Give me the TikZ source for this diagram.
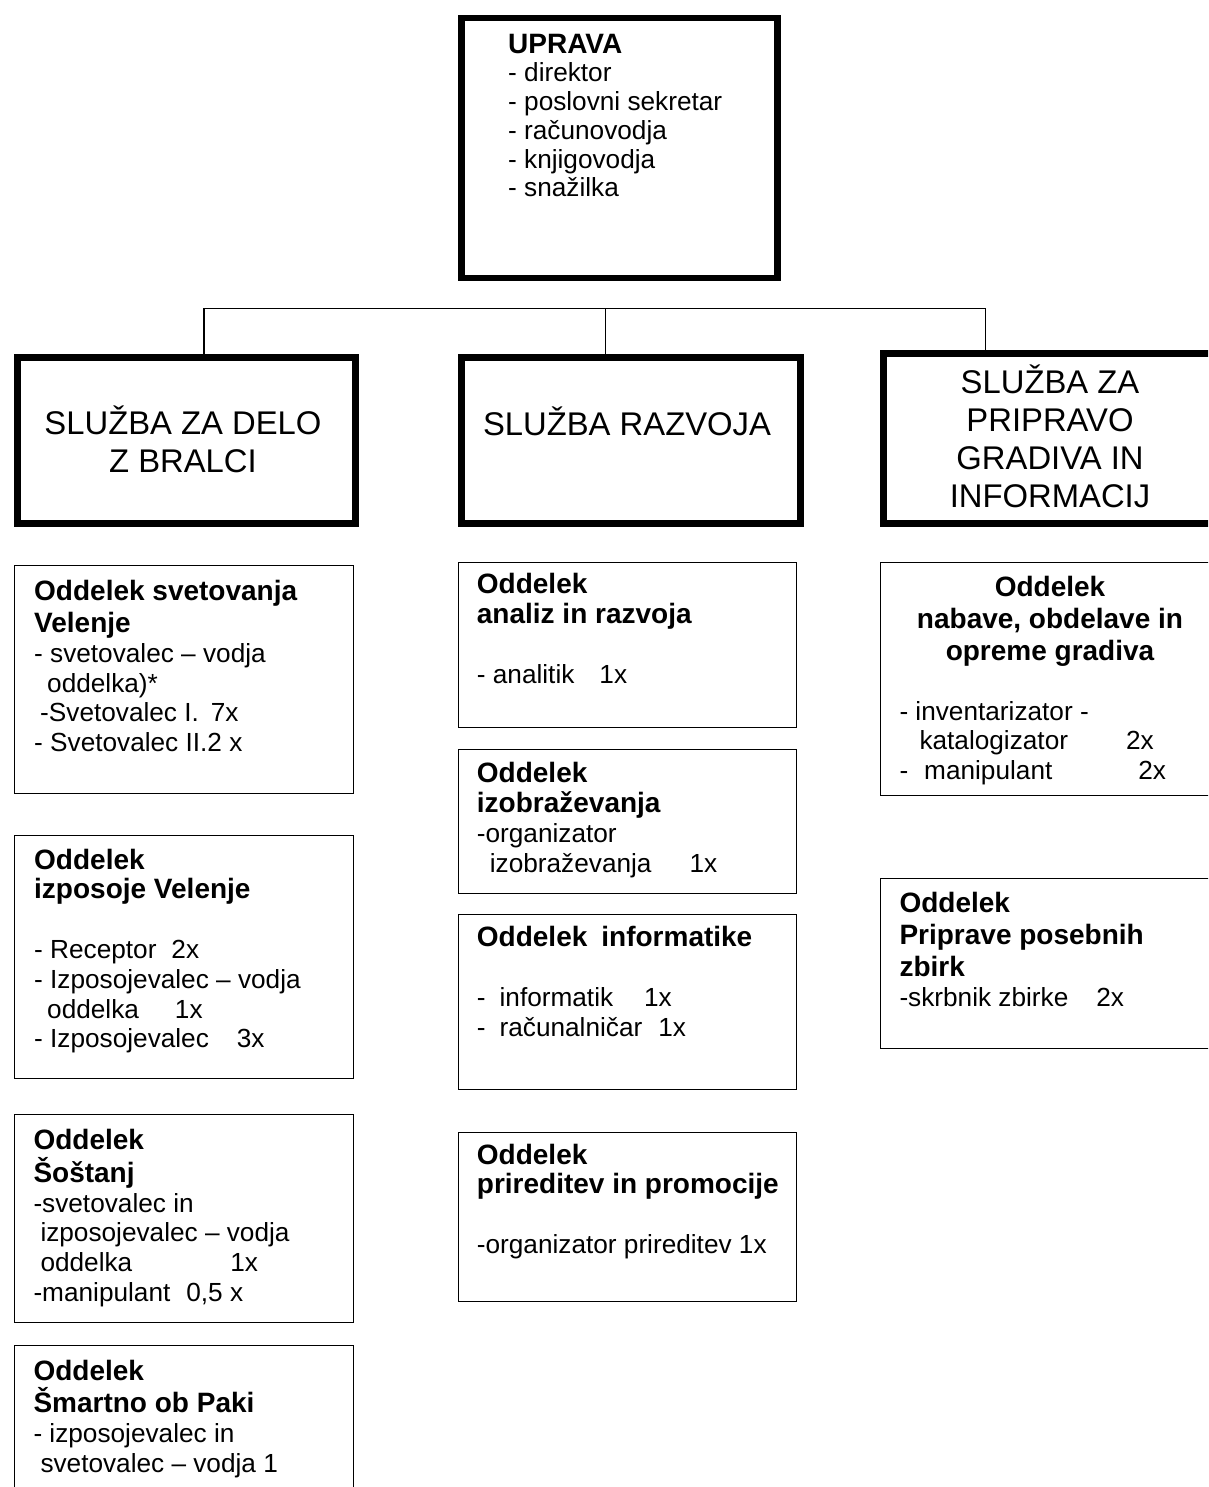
\documentclass[tikz,border=0pt]{standalone}
\usepackage{fontspec}
\setmainfont{Liberation Sans}
\usetikzlibrary{positioning}

\newcommand{\boxtext}[1]{\begin{tabular}[t]{@{}l@{}}#1\end{tabular}}
\newcommand{\boxtextc}[1]{\begin{tabular}[t]{@{}c@{}}#1\end{tabular}}
\newcommand{\headfont}{\fontsize{28}{31}\bfseries\selectfont}

\begin{document}
\begin{tikzpicture}[x=1pt,y=-1pt,
    uprava/.style={draw,line width=6.5pt,anchor=north west,inner sep=0,minimum width=316pt,minimum height=260pt},
    sluzba/.style={draw,line width=6.5pt,anchor=north west,inner sep=0,minimum height=166pt},
    oddelek/.style={draw,line width=1.3pt,anchor=north west,inner sep=0,minimum width=339pt},
    txt/.style={anchor=base west,inner sep=0,font=\fontsize{26.2}{29.8}\selectfont},
    bigtxt/.style={anchor=base,inner sep=0,font=\fontsize{32.8}{38}\selectfont},
    link/.style={line width=1.2pt}]
  \useasboundingbox (0,0) rectangle (1208,1487);
  \clip (0,0) rectangle (1208,1487);

  % uprava
  \node[uprava] (upr) at (458,15) {};
  \node[txt,font=\fontsize{26.2}{28.7}\selectfont] (uprt) at (508,53.3)
    {\boxtext{\headfont UPRAVA\\- direktor\\- poslovni sekretar\\- računovodja\\- knjigovodja\\- snažilka}};

  % sluzbe
  \node[sluzba,minimum width=338pt] (sbr) at (14,354) {};
  \node[bigtxt] (sbrt) at (183,434) {\boxtextc{SLUŽBA ZA DELO\\Z BRALCI}};
  \node[sluzba,minimum width=339pt] (sraz) at (458,354) {};
  \node[bigtxt] (srazt) at (627,435) {SLUŽBA RAZVOJA};
  \node[sluzba,minimum width=340pt,minimum height=170pt] (sgr) at (880,350) {};
  \node[bigtxt] (sgrt) at (1050,393) {\boxtextc{SLUŽBA ZA\\PRIPRAVO\\GRADIVA IN\\INFORMACIJ}};

  % povezave
  \coordinate (jl) at (204,308.3);
  \coordinate (jm) at (605.8,308.3);
  \coordinate (jr) at (985.8,308.3);
  \draw[link] (jl) -- (jr);
  \draw[link] (jl) -- (jl |- sbr.north);
  \draw[link] (jm) -- (jm |- sraz.north);
  \draw[link] (jr) -- (jr |- sgr.north);

  % oddelki - delo z bralci
  \node[oddelek,minimum height=228pt] (svet) at (14,565) {};
  \node[txt] (svett) at (34,600.6)
    {\boxtext{\headfont Oddelek svetovanja\\[2pt]\headfont Velenje\\- svetovalec – vodja\\\hspace*{13pt}oddelka)*\\\hspace*{6pt}-Svetovalec I.\hspace{12pt}7x\\- Svetovalec II.2 x}};
  \node[oddelek,minimum height=243pt] (izp) at (14,835) {};
  \node[txt] (izpt) at (34,869)
    {\boxtext{\headfont Oddelek\\\headfont izposoje Velenje\\\\- Receptor\hspace{15pt}2x\\- Izposojevalec – vodja\\\hspace*{13pt}oddelka\hspace{36pt}1x\\- Izposojevalec\hspace{28pt}3x}};
  \node[oddelek,minimum height=208pt] (sos) at (14,1114) {};
  \node[txt] (sost) at (33.3,1149.3)
    {\boxtext{\headfont Oddelek\\[-1pt]\headfont Šoštanj\\-svetovalec in\\\hspace*{7pt}izposojevalec – vodja\\\hspace*{7pt}oddelka\hspace{98pt}1x\\-manipulant\hspace{16pt}0,5 x}};
  \node[oddelek,minimum height=200pt] (sma) at (14,1345) {};
  \node[txt] (smat) at (33.3,1380.7)
    {\boxtext{\headfont Oddelek\\[-2pt]\headfont Šmartno ob Paki\\- izposojevalec in\\\hspace*{7pt}svetovalec – vodja 1}};

  % oddelki - razvoj
  \node[oddelek,minimum width=338.5pt,minimum height=165pt] (ana) at (457.5,562) {};
  \node[txt] (anat) at (476.7,593.9)
    {\boxtext{\headfont Oddelek\\\headfont analiz in razvoja\\\\- analitik\hspace{25pt}1x}};
  \node[oddelek,minimum width=338.5pt,minimum height=144.5pt] (izo) at (457.5,748.5) {};
  \node[txt] (izot) at (476.7,782.9)
    {\boxtext{\headfont Oddelek\\\headfont izobraževanja\\-organizator\\\hspace*{13pt}izobraževanja\hspace{38pt}1x}};
  \node[oddelek,minimum width=338.5pt,minimum height=175.5pt] (inf) at (457.5,913.5) {};
  \node[txt] (inft) at (476.7,946.6)
    {\boxtext{\headfont Oddelek\hspace{14pt}informatike\\\\-\hspace{14pt}informatik\hspace{31pt}1x\\-\hspace{14pt}računalničar\hspace{16pt}1x}};
  \node[oddelek,minimum width=338.5pt,minimum height=169pt] (pri) at (457.5,1132) {};
  \node[txt] (prit) at (476.7,1164)
    {\boxtext{\headfont Oddelek\\\headfont prireditev in promocije\\\\-organizator prireditev 1x}};

  % oddelki - gradivo
  \node[oddelek,minimum width=360pt,minimum height=233pt] (nab) at (880,562) {};
  \node[txt,anchor=base] (nabh) at (1050,596.7)
    {\boxtextc{\headfont Oddelek\\[2pt]\headfont nabave, obdelave in\\[2pt]\headfont opreme gradiva}};
  \node[txt] (nabt) at (899.3,720)
    {\boxtext{- inventarizator -\\\hspace*{20pt}katalogizator\hspace{58pt}2x\\-\hspace{16pt}manipulant\hspace{86pt}2x}};
  \node[oddelek,minimum width=360pt,minimum height=170pt] (zbi) at (880,878) {};
  \node[txt] (zbit) at (899.3,912.7)
    {\boxtext{\headfont Oddelek\\[2pt]\headfont Priprave posebnih\\[2pt]\headfont zbirk\\-skrbnik zbirke\hspace{28pt}2x}};
\end{tikzpicture}
\end{document}
